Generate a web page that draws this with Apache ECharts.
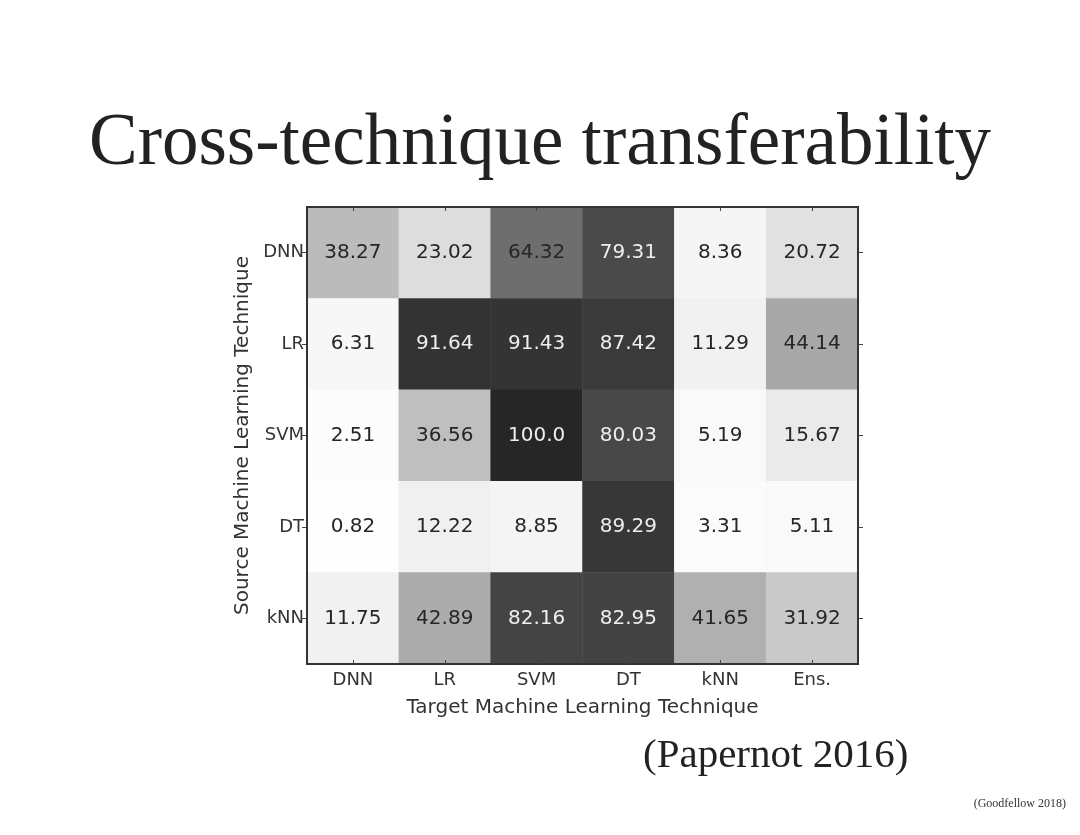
<!DOCTYPE html>
<html>
<head>
<meta charset="utf-8">
<script src="https://cdn.jsdelivr.net/npm/echarts@6/dist/echarts.min.js"></script>
<style>
  html, body { margin: 0; padding: 0; background: #fff; }
  #chart { width: 1080px; height: 835px; }
</style>
</head>
<body>
<div id="chart"></div>
<script>
// target techniques (columns) and source techniques (rows)
const targets = ["DNN", "LR", "SVM", "DT", "kNN", "Ens."];
const sources = ["DNN", "LR", "SVM", "DT", "kNN"];

// one row per source, in target order
const rowDNN = [38.27, 23.02, 64.32, 79.31, 8.36, 20.72];
const rowLR = [6.31, 91.64, 91.43, 87.42, 11.29, 44.14];
const rowSVM = [2.51, 36.56, 100.0, 80.03, 5.19, 15.67];
const rowDT = [0.82, 12.22, 8.85, 89.29, 3.31, 5.11];
const rowKNN = [11.75, 42.89, 82.16, 82.95, 41.65, 31.92];

const rows = [rowDNN, rowLR, rowSVM, rowDT, rowKNN];

const cells = [];
rows.forEach((row, y) => {
  row.forEach((v, x) => {
    cells.push({
      value: [x, y, v],
      label: { color: v > 70 ? "#eeeeee" : "#262626" }
    });
  });
});

const tickStyle = { color: "#444", width: 1 };

const chart = echarts.init(document.getElementById("chart"));
chart.setOption({
  backgroundColor: "#fff",
  animation: false,
  title: [
    {
      text: "Cross-technique transferability",
      left: "center",
      top: 103,
      textStyle: { fontFamily: "Liberation Serif", fontWeight: "normal", fontSize: 73, color: "#222" }
    },
    {
      text: "(Papernot 2016)",
      left: 638,
      top: 731,
      textStyle: { fontFamily: "Liberation Serif", fontWeight: "normal", fontSize: 41, color: "#222" }
    },
    {
      text: "(Goodfellow 2018)",
      right: 9,
      top: 793,
      textStyle: { fontFamily: "Liberation Serif", fontWeight: "normal", fontSize: 12, color: "#333" }
    }
  ],
  grid: {
    left: 307,
    right: 222,
    top: 207,
    bottom: 171,
    show: true,
    borderColor: "#333",
    borderWidth: 2,
    backgroundColor: "transparent",
    z: 10
  },
  xAxis: [
    {
      type: "category",
      data: targets,
      name: "Target Machine Learning Technique",
      nameLocation: "middle",
      nameGap: 34,
      nameTextStyle: { fontFamily: "DejaVu Sans", fontSize: 20, color: "#333" },
      axisLine: { show: false },
      axisTick: { show: true, inside: true, alignWithLabel: true, length: 4, lineStyle: tickStyle },
      axisLabel: { fontFamily: "DejaVu Sans", fontSize: 18, color: "#333", margin: 7 },
      z: 10
    },
    {
      type: "category",
      data: targets,
      position: "top",
      axisLine: { show: false },
      axisTick: { show: true, inside: true, alignWithLabel: true, length: 4, lineStyle: tickStyle },
      axisLabel: { show: false },
      z: 10
    }
  ],
  yAxis: [
    {
      type: "category",
      data: sources,
      inverse: true,
      name: "Source Machine Learning Technique",
      nameLocation: "middle",
      nameGap: 44,
      nameTextStyle: { fontFamily: "DejaVu Sans", fontSize: 20, color: "#333" },
      axisLine: { show: false },
      axisTick: { show: true, alignWithLabel: true, length: 5, lineStyle: tickStyle },
      axisLabel: { fontFamily: "DejaVu Sans", fontSize: 18, color: "#333", margin: 3 }
    },
    {
      type: "category",
      data: sources,
      inverse: true,
      position: "right",
      axisLine: { show: false },
      axisTick: { show: true, alignWithLabel: true, length: 5, lineStyle: tickStyle },
      axisLabel: { show: false }
    }
  ],
  visualMap: {
    show: false,
    min: 0,
    max: 100,
    dimension: 2,
    seriesIndex: 0,
    inRange: {
      color: ["#ffffff", "#f0f0f0", "#d9d9d9", "#bdbdbd", "#969696", "#737373", "#525252", "#3a3a3a", "#262626"]
    }
  },
  series: [
    {
      type: "heatmap",
      xAxisIndex: 0,
      yAxisIndex: 0,
      data: cells,
      label: {
        show: true,
        fontFamily: "DejaVu Sans",
        fontSize: 20,
        formatter: p => p.value[2].toFixed(p.value[2] === 100 ? 1 : 2)
      },
      itemStyle: { borderWidth: 0 },
      emphasis: { disabled: true }
    }
  ]
});
</script>
</body>
</html>
